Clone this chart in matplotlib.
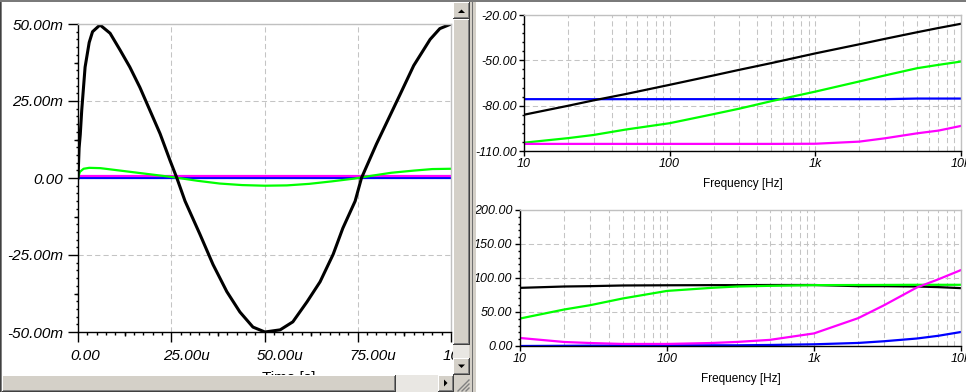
import matplotlib
matplotlib.use("Agg")
import matplotlib.pyplot as plt
from matplotlib.patches import Rectangle, Polygon
from matplotlib.lines import Line2D
from matplotlib.transforms import ScaledTranslation, Bbox, TransformedBbox
from matplotlib.ticker import MultipleLocator, FixedLocator, FuncFormatter, LogLocator, NullFormatter

W, H = 966, 392

# Transient (left panel): time in us, output in mV ---------------------
t_black = [0, 0.3, 0.6, 1.0, 1.9, 3.0, 3.9, 5.9, 8.6, 11.3, 13.9, 16.6, 19.3, 22.0,
           24.7, 26.5, 28.7, 32.7, 36.2, 39.9, 43.4, 46.9, 50.1, 54.2, 57.6, 61.4,
           64.9, 68.4, 71.0, 74.3, 76.0, 80.0, 86.3, 90.0, 94.4, 97.0, 100.0]
v_black = [0, 9.8, 14.0, 22.0, 36.0, 44.0, 47.5, 49.7, 47.0, 41.5, 36.0, 29.4, 21.9, 14.4,
           5.6, 0.0, -7.5, -18.3, -28.1, -36.9, -43.5, -48.4, -50.0, -49.3, -46.7, -40.2,
           -33.7, -24.8, -16.3, -7.5, 0.0, 11.0, 27.0, 36.5, 45.0, 48.5, 50.0]
t_green = [0, 0.5, 1.5, 3, 6, 12, 18, 24, 27, 32, 38, 44, 50, 56, 62, 68, 74, 78, 84, 90, 95, 100]
v_green = [0, 2.0, 3.0, 3.3, 3.2, 2.3, 1.4, 0.5, 0.0, -0.9, -1.8, -2.3, -2.5, -2.4, -1.9,
           -1.1, -0.2, 0.6, 1.7, 2.4, 2.9, 3.0]
t_flat = [0, 100]
v_blue = [0.0, 0.0]
v_magenta = [0.5, 0.5]

# AC analysis (right panels) -------------------------------------------
freq = [10, 20, 30, 50, 100, 200, 300, 500, 1000, 2000, 3000, 5000, 7000, 10000]
mag_black = [-86.0, -80.1, -76.5, -72.3, -66.2, -60.0, -56.3, -51.8, -45.4, -39.4,
             -35.8, -31.4, -28.6, -25.8]
mag_green = [-104.5, -101.5, -99.4, -95.8, -91.6, -85.6, -82.0, -77.0, -70.7, -64.0,
             -60.0, -55.2, -53.0, -50.8]
mag_blue = [-75.7, -75.7, -75.7, -75.7, -75.7, -75.7, -75.7, -75.7, -75.7, -75.7,
            -75.7, -75.3, -75.3, -75.3]
mag_magenta = [-105.3, -105.3, -105.3, -105.3, -105.3, -105.3, -105.3, -105.3, -105.2,
               -103.8, -101.6, -98.3, -96.5, -93.4]
ph_black = [85.5, 87.5, 88.0, 89.0, 89.3, 89.5, 89.5, 89.7, 89.7, 88.0, 88.0, 87.5, 86.6, 85.1]
ph_green = [40.4, 53.7, 60.0, 69.9, 81.0, 85.5, 87.5, 88.5, 89.5, 89.7, 89.8, 90.0, 90.0, 90.0]
ph_blue = [0.0, 0.3, 0.5, 0.7, 1.0, 1.0, 1.0, 1.5, 2.5, 4.5, 7.0, 11.0, 15.0, 20.6]
ph_magenta = [11.8, 5.9, 4.4, 3.0, 3.0, 4.4, 6.0, 9.0, 18.5, 41.0, 60.0, 86.0, 98.0, 111.7]

BLACK, GREEN, BLUE, MAGENTA = "#000000", "#00ff00", "#0000ff", "#ff00ff"
GRID = "#c4c4c4"
FACE = "#d4d0c8"

plt.rcParams["font.family"] = ["Liberation Sans", "DejaVu Sans"]
plt.rcParams["font.style"] = "italic"

fig = plt.figure(figsize=(W / 100, H / 100), dpi=100, facecolor="white")


def px_axes(x0, y0, x1, y1):
    return fig.add_axes([x0 / W, 1 - y1 / H, (x1 - x0) / W, (y1 - y0) / H])


def style_frame(ax):
    ax.spines["left"].set_color(BLACK)
    ax.spines["bottom"].set_color(BLACK)
    ax.spines["top"].set_color("#c0c0c0")
    ax.spines["right"].set_color("#c0c0c0")
    for s in ax.spines.values():
        s.set_linewidth(1.0)
    ax.grid(True, which="major", color=GRID, linestyle=(0, (5, 3)), linewidth=0.75)
    ax.set_axisbelow(True)


# Left: transient ------------------------------------------------------
ax = px_axes(78, 24, 451, 332)
style_frame(ax)
ax.plot(t_flat, v_blue, color=BLUE, lw=1.6)
ax.plot(t_flat, v_magenta, color=MAGENTA, lw=1.6)
ax.plot(t_green, v_green, color=GREEN, lw=1.6)
ax.plot(t_black, v_black, color=BLACK, lw=2.2)
ax.set_xlim(0, 100)
ax.set_ylim(-50, 50)
ax.xaxis.set_major_locator(MultipleLocator(25))
ax.yaxis.set_major_locator(MultipleLocator(25))
ax.xaxis.set_minor_locator(MultipleLocator(2.5))
ax.yaxis.set_minor_locator(MultipleLocator(2.5))
ax.xaxis.set_major_formatter(FuncFormatter(lambda v, p: "0.00" if v == 0 else f"{v:.2f}u"))
ax.yaxis.set_major_formatter(FuncFormatter(lambda v, p: "0.00" if v == 0 else f"{v:.2f}m"))
ax.tick_params(which="major", direction="out", length=7.5, width=1, labelsize=11, pad=3)
ax.tick_params(axis="x", which="major", pad=4.5)
ax.tick_params(which="minor", direction="out", length=1.8, width=1)
xlab = ax.set_xlabel("Time [s]", fontsize=11, fontstyle="normal", ha="left")
ax.xaxis.set_label_coords(0.492, -0.127)

# the transient window ends at its scrollbars: clip its texts there
window = TransformedBbox(Bbox([[2 / W, 17 / H], [453 / W, 1]]), fig.transFigure)
shift = ScaledTranslation(-8 / 100, 0, fig.dpi_scale_trans)
for tick in ax.xaxis.get_major_ticks():
    tick.label1.set_horizontalalignment("left")
    tick.label1.set_transform(tick.label1.get_transform() + shift)
    tick.label1.set_clip_box(window)
xlab.set_clip_box(window)

# medium ticks halfway between majors
secx = ax.secondary_xaxis("bottom")
secx.set_xticks([12.5, 37.5, 62.5, 87.5])
secx.tick_params(length=3, width=1, labelbottom=False)
secx.spines["bottom"].set_visible(False)
secy = ax.secondary_yaxis("left")
secy.set_yticks([-37.5, -12.5, 12.5, 37.5])
secy.tick_params(length=3, width=1, labelleft=False)
secy.spines["left"].set_visible(False)


def bode_axes(x0, y0, x1, y1, ylo, yhi, step, minor):
    a = px_axes(x0, y0, x1, y1)
    style_frame(a)
    a.set_xscale("log")
    a.set_xlim(10, 10000)
    a.set_ylim(ylo, yhi)
    a.yaxis.set_major_locator(MultipleLocator(step, offset=yhi % step))
    a.yaxis.set_minor_locator(MultipleLocator(minor, offset=yhi % minor))
    a.yaxis.set_major_formatter(FuncFormatter(lambda v, p: f"{v:.2f}"))
    a.xaxis.set_major_locator(FixedLocator([10, 100, 1000, 10000]))
    a.xaxis.set_major_formatter(FuncFormatter(
        lambda v, p: {10: "10", 100: "100", 1000: "1k", 10000: "10k"}.get(int(round(v)), "")))
    a.xaxis.set_minor_locator(LogLocator(base=10, subs=range(2, 10)))
    a.xaxis.set_minor_formatter(NullFormatter())
    a.grid(True, which="minor", axis="x", color=GRID, linestyle=(0, (5, 3)), linewidth=0.75)
    a.tick_params(which="major", direction="out", length=3.8, width=1, labelsize=9, pad=1.5)
    a.tick_params(axis="y", which="minor", direction="out", length=1.8, width=1)
    a.tick_params(axis="x", which="minor", length=0)
    a.set_xlabel("Frequency [Hz]", fontsize=8.5, fontstyle="normal", labelpad=5.5)
    return a


ax_mag = bode_axes(524, 15, 961, 151, -110, -20, 30, 6)
ax_mag.plot(freq, mag_blue, color=BLUE, lw=1.6)
ax_mag.plot(freq, mag_black, color=BLACK, lw=1.6)
ax_mag.plot(freq, mag_green, color=GREEN, lw=1.6)
ax_mag.plot(freq, mag_magenta, color=MAGENTA, lw=1.6)

ax_ph = bode_axes(520, 210, 961, 346, 0, 200, 50, 10)
ax_ph.plot(freq, ph_blue, color=BLUE, lw=1.6)
ax_ph.plot(freq, ph_black, color=BLACK, lw=1.6)
ax_ph.plot(freq, ph_green, color=GREEN, lw=1.6)
ax_ph.plot(freq, ph_magenta, color=MAGENTA, lw=1.6)


# Window chrome (scrollbars, borders) ----------------------------------
def box(x, y, w, h, color, z=10):
    fig.add_artist(Rectangle((x / W, 1 - (y + h) / H), w / W, h / H,
                             transform=fig.transFigure, facecolor=color,
                             edgecolor="none", zorder=z))


def bevel(x, y, w, h):
    box(x, y, w, h, "#404040", 11)
    box(x, y, w - 1, h - 1, "#ffffff", 11)
    box(x + 1, y + 1, w - 2, h - 2, "#808080", 11)
    box(x + 1, y + 1, w - 3, h - 3, FACE, 11)


def tri(points):
    fig.add_artist(Polygon([(px / W, 1 - py / H) for px, py in points], closed=True,
                           transform=fig.transFigure, facecolor="black",
                           edgecolor="none", zorder=12))


# vertical scrollbar of the transient window
box(453, 0, 17, 375, "#e9e7e3")
bevel(453, 2, 17, 17)
tri([(458, 13), (465, 13), (461.5, 9.5)])
bevel(453, 19, 17, 326)
bevel(453, 358, 17, 17)
tri([(458, 364.5), (465, 364.5), (461.5, 368)])

# horizontal scrollbar
box(0, 375, 470, 17, "#e9e7e3")
bevel(2, 375, 394, 17)
bevel(438, 375, 16, 17)
tri([(444, 379.5), (444, 386.5), (447.5, 383)])
box(454, 375, 16, 17, FACE)
for k in range(3):
    d = 4 * k + 3
    fig.add_artist(Line2D([(469 - d) / W, 469 / W], [1 - 391 / H, 1 - (391 - d) / H],
                          transform=fig.transFigure, color="#808080", lw=1, zorder=12))

# divider between the two windows
box(469, 0, 7, 392, FACE)
box(471.5, 0, 1.5, 392, "#707070")

# outer borders
box(0, 0, 1, 392, "#404040")
box(1, 0, 1, 392, "#808080")
box(0, 0, 966, 1.5, "#7a7a7a")

fig.savefig("out.png", dpi=100, facecolor="white")
